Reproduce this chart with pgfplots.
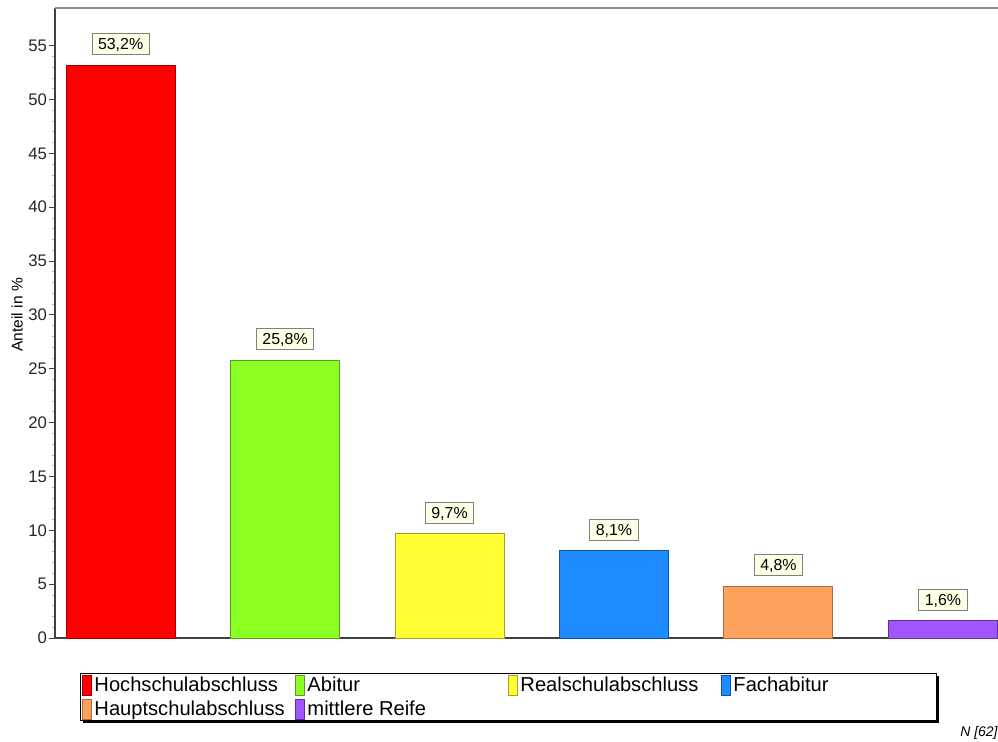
\documentclass[border=0pt]{standalone}
\usepackage{pgfplots}
\pgfplotsset{compat=1.18}
\usepackage{fontspec}
\setmainfont{Liberation Sans}
\definecolor{cRed}{HTML}{FF0000}\definecolor{dRed}{HTML}{A00000}
\definecolor{cGreen}{HTML}{8CFF22}\definecolor{dGreen}{HTML}{5A9A20}
\definecolor{cYellow}{HTML}{FFFF33}\definecolor{dYellow}{HTML}{A0A030}
\definecolor{cBlue}{HTML}{1E8CFF}\definecolor{dBlue}{HTML}{1050A0}
\definecolor{cOrange}{HTML}{FFA25E}\definecolor{dOrange}{HTML}{B06A3A}
\definecolor{cPurple}{HTML}{A055FF}\definecolor{dPurple}{HTML}{6030A0}
\definecolor{labelfill}{HTML}{FFFFE6}
\pgfplotsset{
  mylegend/.style={legend image code/.code={\draw[##1,line width=0.5bp] (0bp,-5bp) rectangle (4.5bp,5bp);}},
}
\newcommand{\lent}[1]{\makebox[99.5bp][l]{\rule[-2.5bp]{0pt}{10bp}#1}}
\begin{document}
\begin{tikzpicture}
% legend shadow (drawn first, the white legend covers it)
\fill[black] (14bp,-42.5bp) rectangle (442bp,-19bp);
\begin{axis}[
  at={(0,0)}, anchor=south west,
  scale only axis,
  width=471.5bp, height=315bp,
  xmin=-0.399, xmax=5.335,
  ymin=0, ymax=58.5,
  ybar, bar width=54.5bp, bar shift=0pt,
  axis x line*=bottom, axis y line*=left,
  axis line style={draw=black!75, line width=0.6bp},
  xtick=\empty,
  ytick={0,5,...,55},
  minor y tick num=4,
  tick align=outside,
  major tick length=3bp, minor tick length=1.5bp,
  tick style={black!75, line width=0.5bp},
  minor tick style={black!30, line width=0.4bp},
  yticklabel style={font=\fontsize{8.4}{10}\selectfont, text=black!85, xshift=2.5bp},
  /pgf/number format/assume math mode=true,
  every axis y label/.style={at={(axis description cs:-0.0403,0.513)}, rotate=90, anchor=center, font=\fontsize{7.8}{9}\selectfont},
  ylabel={Anteil in \%},
  nodes near coords={\pgfmathprintnumber[use comma,fixed,fixed zerofill,precision=1]{\pgfplotspointmeta}\%},
  every node near coord/.append style={font=\fontsize{8}{9}\selectfont, fill=labelfill, draw=black!50, line width=0.5bp, inner xsep=3bp, inner ysep=2bp, anchor=south, yshift=5bp, text height=6bp, text depth=0.5bp},
  legend columns=4,
  legend style={at={(axis description cs:0.0265,-0.0556)}, anchor=north west,
    draw=black, line width=0.5bp, fill=white,
    font=\fontsize{10.1}{11}\selectfont,
    inner xsep=1bp, inner ysep=0.5bp,
    column sep=0pt, row sep=1.5bp,
    nodes={inner xsep=1bp, inner ysep=0.5bp}},
  legend cell align=left,
  clip=false,
]
\addplot[fill=cRed, draw=dRed, line width=0.5bp, bar shift=0pt, mylegend] coordinates {(0,53.2)};
\addlegendentry{\lent{Hochschulabschluss}}
\addplot[fill=cGreen, draw=dGreen, line width=0.5bp, bar shift=0pt, mylegend] coordinates {(1,25.8)};
\addlegendentry{\lent{Abitur}}
\addplot[fill=cYellow, draw=dYellow, line width=0.5bp, bar shift=0pt, mylegend] coordinates {(2,9.7)};
\addlegendentry{\lent{Realschulabschluss}}
\addplot[fill=cBlue, draw=dBlue, line width=0.5bp, bar shift=0pt, mylegend] coordinates {(3,8.1)};
\addlegendentry{\lent{Fachabitur}}
\addplot[fill=cOrange, draw=dOrange, line width=0.5bp, bar shift=0pt, mylegend] coordinates {(4,4.8)};
\addlegendentry{\lent{Hauptschulabschluss}}
\addplot[fill=cPurple, draw=dPurple, line width=0.5bp, bar shift=0pt, mylegend] coordinates {(5,1.6)};
\addlegendentry{\lent{mittlere Reife}}
\draw[black!45, line width=0.6bp] (rel axis cs:0,1) -- (rel axis cs:1,1);
\node[anchor=east, yshift=-47.5bp, font=\fontsize{7}{8}\selectfont\itshape, inner sep=0pt] at (rel axis cs:1,0) {N [62]};
\end{axis}
\pgfresetboundingbox
\path[use as bounding box] (-27.5bp,-52bp) rectangle (471.5bp,319bp);
\end{tikzpicture}
\end{document}
